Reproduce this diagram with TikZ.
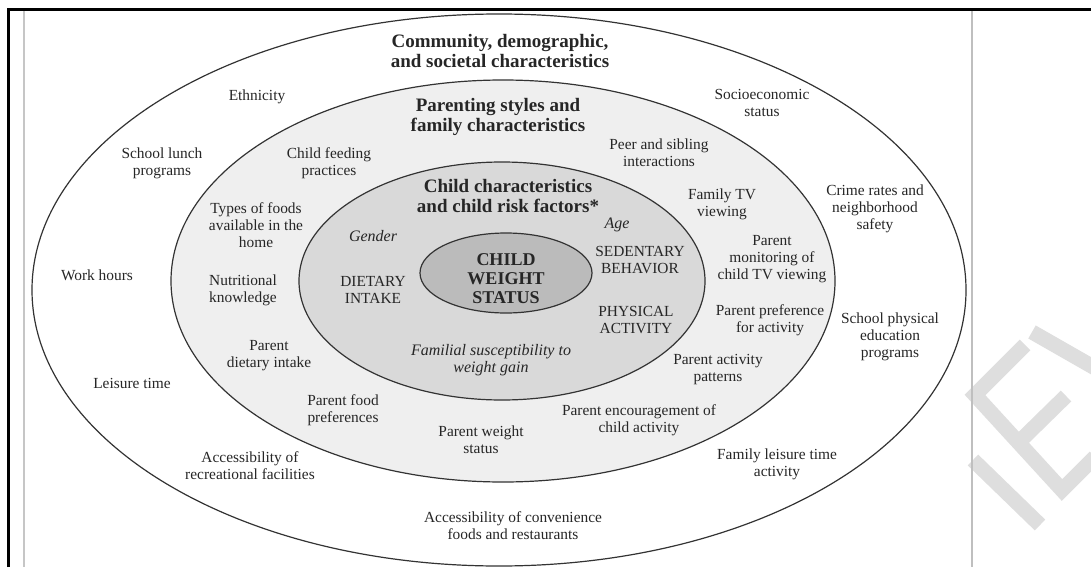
\documentclass[tikz,border=0pt]{standalone}
\usepackage{fontspec}
\setmainfont{Liberation Serif}
\definecolor{inkgray}{HTML}{262626}
\definecolor{ringgray}{HTML}{EFEFEF}
\definecolor{coregray}{HTML}{D9D9D9}
\definecolor{hubgray}{HTML}{BBBBBB}
\definecolor{markgray}{HTML}{DEDEDE}
\begin{document}
\begin{tikzpicture}[x=1pt,y=-1pt,
    lbl/.style={align=center,text=inkgray,inner sep=0pt,font=\fontsize{15.4}{17}\selectfont},
    head/.style={lbl,font=\fontsize{19}{20.5}\selectfont\bfseries},
    hub/.style={lbl,font=\fontsize{18}{19}\selectfont\bfseries},
    risk/.style={lbl,font=\fontsize{16}{17}\selectfont\itshape},
    ring/.style={draw=black!80,line width=1.2pt},
    wmark/.style={markgray,line width=15pt}]
  \useasboundingbox (0,0) rectangle (1091,567);
  \fill[white] (0,0) rectangle (1091,567);

  % watermark letters
  \draw[wmark] (1025,345) -- (975,395) -- (1062,490) -- (1095,457);
  \draw[wmark] (1018,443) -- (1066,396);
  \draw[wmark] (1032,332) -- (1095,368);
  \draw[wmark] (973,460) -- (1040,525);

  % frame
  \draw[black,line width=3pt] (8,567) -- (8,10) -- (1091,10);
  \draw[gray!45,line width=1.5pt] (24,11.5) -- (24,567);
  \draw[gray!50,line width=1.5pt] (972,11.5) -- (972,567);

  % rings
  \draw[ring,fill=white] (499,290) ellipse [x radius=467, y radius=276];
  \draw[ring,fill=ringgray] (503,281) ellipse [x radius=332, y radius=201];
  \draw[ring,fill=coregray] (502,281) ellipse [x radius=203, y radius=119];
  \draw[ring,fill=hubgray] (506,273) ellipse [x radius=86, y radius=40];

  % outer ring
  \node[head] (community) at (500,51) {Community, demographic,\\and societal characteristics};
  \node[lbl] (ethnicity) at (257,97) {Ethnicity};
  \node[lbl] (ses) at (762,103) {Socioeconomic\\status};
  \node[lbl] (lunch) at (162,163) {School lunch\\programs};
  \node[lbl] (crime) at (875,209) {Crime rates and\\neighborhood\\safety};
  \node[lbl] (work) at (97,275) {Work hours};
  \node[lbl] (pe) at (890,337) {School physical\\education\\programs};
  \node[lbl] (leisure) at (132,383) {Leisure time};
  \node[lbl] (recfac) at (250,466) {Accessibility of\\recreational facilities};
  \node[lbl] (famleisure) at (777,464) {Family leisure time\\activity};
  \node[lbl] (convfood) at (513,526) {Accessibility of convenience\\foods and restaurants};

  % middle ring
  \node[head] (parenting) at (498,117) {Parenting styles and\\family characteristics};
  \node[lbl] (feeding) at (329,163) {Child feeding\\practices};
  \node[lbl] (peer) at (659,153) {Peer and sibling\\interactions};
  \node[lbl] (foodtypes) at (256,225) {Types of foods\\available in the\\home};
  \node[lbl] (familytv) at (722,204) {Family TV\\viewing};
  \node[lbl] (tvmonitor) at (772,259) {Parent\\monitoring of\\child TV viewing};
  \node[lbl] (nutrition) at (243,290) {Nutritional\\knowledge};
  \node[lbl] (actpref) at (770,320) {Parent preference\\for activity};
  \node[lbl] (pdiet) at (269,356) {Parent\\dietary intake};
  \node[lbl] (actpattern) at (718,370) {Parent activity\\patterns};
  \node[lbl] (foodpref) at (343,410) {Parent food\\preferences};
  \node[lbl] (encourage) at (639,420) {Parent encouragement of\\child activity};
  \node[lbl] (pweight) at (481,440) {Parent weight\\status};

  % inner ring
  \node[head] (childchar) at (508,196) {Child characteristics\\and child risk factors*};
  \node[risk] (gender) at (373,236) {Gender};
  \node[risk] (age) at (617,225) {Age};
  \node[lbl] (sedentary) at (640,260) {SEDENTARY\\BEHAVIOR};
  \node[lbl] (dietary) at (373,290) {DIETARY\\INTAKE};
  \node[lbl] (physical) at (636,320) {PHYSICAL\\ACTIVITY};
  \node[risk] (familial) at (491,360) {Familial susceptibility to\\weight gain};
  \node[hub] (weight) at (506,279) {CHILD\\WEIGHT\\STATUS};
\end{tikzpicture}
\end{document}
